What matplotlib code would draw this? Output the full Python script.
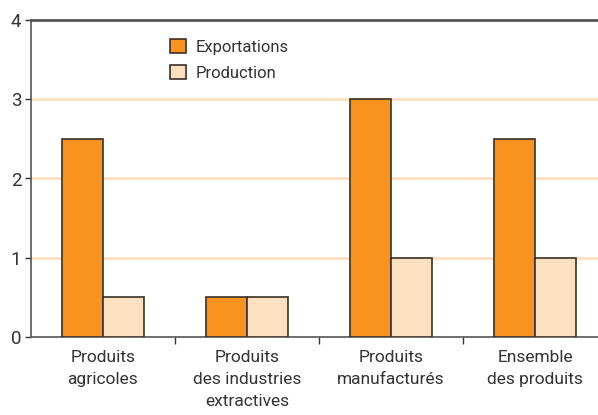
import numpy as np
import matplotlib.pyplot as plt

# Data
categories = ['Produits\nagricoles', 'Produits\ndes industries\nextractives',
              'Produits\nmanufacturés', 'Ensemble\ndes produits']
exportations = [2.5, 0.5, 3.0, 2.5]
production = [0.5, 0.5, 1.0, 1.0]

plt.rcParams['font.family'] = ['Roboto', 'DejaVu Sans']

orange = '#f7931e'
peach = '#fde0c0'
edge = '#3a3128'
textc = '#333333'

fig = plt.figure(figsize=(5.98, 4.15), dpi=100)
ax = fig.add_axes([31 / 598, 78 / 415, 567 / 598, 317 / 415])

x = np.arange(len(categories))
w = 0.288
ax.bar(x - w / 2, exportations, w, color=orange, edgecolor=edge, linewidth=1.2,
       label='Exportations', zorder=3)
ax.bar(x + w / 2, production, w, color=peach, edgecolor=edge, linewidth=1.2,
       label='Production', zorder=3)

ax.set_ylim(0, 4)
ax.set_yticks([0, 1, 2, 3, 4])
for yv in [1, 2, 3]:
    ax.axhline(yv, color=peach, linewidth=2, zorder=1)

# separators between groups, labels centred on groups
ax.set_xticks(x[:-1] + 0.5)
ax.set_xticklabels([])
ax.set_xticks(x, categories, minor=True)
ax.set_xlim(-0.5, -0.5 + 567 / 144)
ax.tick_params(axis='x', which='major', length=5, width=1, color='#333333', direction='out')
ax.tick_params(axis='x', which='minor', length=0, labelsize=12.5, pad=9, labelcolor=textc)
ax.tick_params(axis='y', length=4, width=1, color='#333333', labelsize=13.5, labelcolor=textc, pad=3)
for lbl in ax.get_xticklabels(minor=True):
    lbl.set_linespacing(1.6)

for s in ['left', 'bottom', 'top']:
    ax.spines[s].set_color('#555555')
    ax.spines[s].set_linewidth(1.2)
ax.spines['top'].set_linewidth(2)
ax.spines['right'].set_visible(False)

leg = ax.legend(loc='upper left', bbox_to_anchor=(170 / 598, 1 - 39 / 415),
                bbox_transform=fig.transFigure, frameon=False, fontsize=12,
                handlelength=0.95, handleheight=0.95, handletextpad=0.6,
                labelspacing=0.6, borderaxespad=0, borderpad=0)
for t in leg.get_texts():
    t.set_color(textc)

fig.savefig('out.png', dpi=100)
